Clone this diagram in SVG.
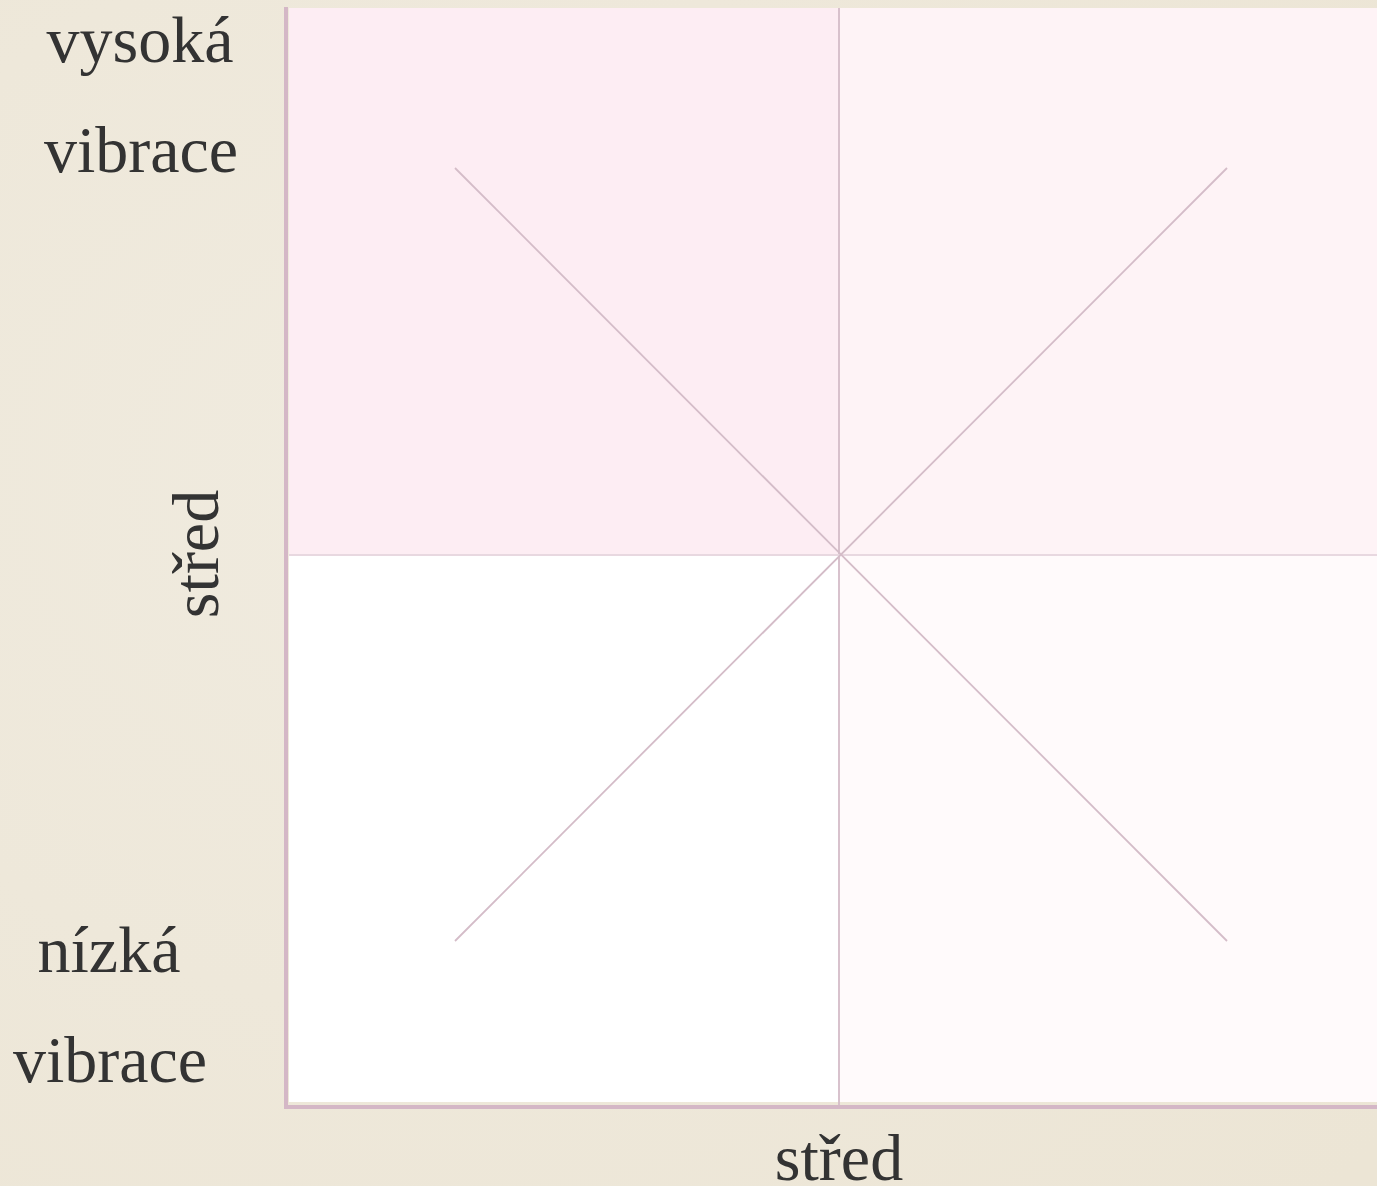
<svg xmlns="http://www.w3.org/2000/svg" width="1377" height="1186" viewBox="0 0 1377 1186">
<style>
.lbl{font-family:"Liberation Serif","Times New Roman",serif;font-size:66px;fill:#333333}
.grid{stroke:#d4bcc8;stroke-width:1.8;fill:none}
.axis{stroke:#d4b7c6;stroke-width:4;fill:none}
</style>
<defs>
<radialGradient id="paper" cx="0.3" cy="0.4" r="0.9">
<stop offset="0" stop-color="#f0ebdf"/>
<stop offset="1" stop-color="#ece5d5"/>
</radialGradient>
</defs>
<rect width="1377" height="1186" fill="url(#paper)"/>
<g id="quadrants">
<rect x="289" y="8" width="550" height="546" fill="#fdedf3"/>
<rect x="839" y="8" width="538" height="546" fill="#fef3f6"/>
<rect x="289" y="554" width="550" height="548" fill="#ffffff"/>
<rect x="839" y="554" width="538" height="548" fill="#fffafb"/>
</g>
<g id="connectors">
<line class="grid" x1="839" y1="8" x2="839" y2="1105"/>
<line class="grid" x1="289" y1="555" x2="1377" y2="555" style="stroke:#e8d8e0"/>
<line class="grid" x1="455" y1="168" x2="1227" y2="941"/>
<line class="grid" x1="1227" y1="168" x2="455" y2="941"/>
</g>
<g id="axes">
<line class="axis" x1="286" y1="7" x2="286" y2="1109"/>
<line class="axis" x1="284" y1="1107" x2="1377" y2="1107"/>
</g>
<g id="labels">
<text class="lbl" x="140" y="62" text-anchor="middle">vysoká</text>
<text class="lbl" x="141" y="172" text-anchor="middle">vibrace</text>
<text class="lbl" x="109" y="972" text-anchor="middle">nízká</text>
<text class="lbl" x="110" y="1082" text-anchor="middle">vibrace</text>
<text class="lbl" x="839" y="1180" text-anchor="middle">střed</text>
<text class="lbl" transform="translate(218,554) rotate(-90)" text-anchor="middle">střed</text>
</g>
</svg>
